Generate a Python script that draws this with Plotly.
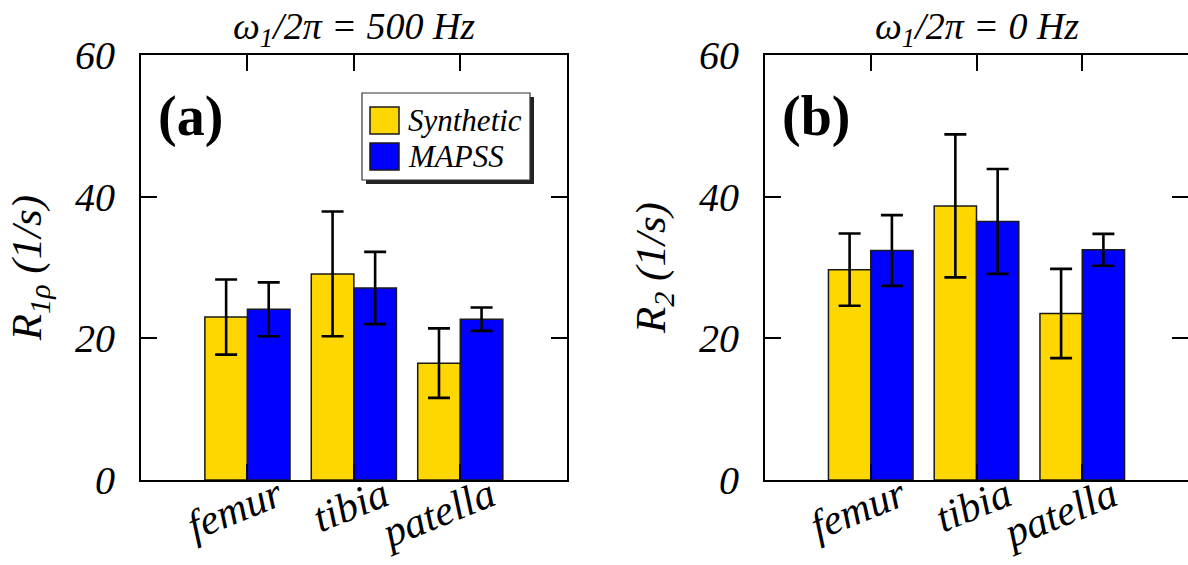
import plotly.graph_objects as go
from plotly.subplots import make_subplots

# ---- data ----
tissues = ["femur", "tibia", "patella"]
tissue_pos = [1, 2, 3]
series_names = ["Synthetic", "MAPSS"]

r1rho_synthetic = [23.0, 29.1, 16.5]
r1rho_synthetic_err = [5.3, 8.8, 4.9]
r1rho_mapss = [24.1, 27.1, 22.7]
r1rho_mapss_err = [3.8, 5.1, 1.65]

r2_synthetic = [29.7, 38.7, 23.5]
r2_synthetic_err = [5.1, 10.1, 6.3]
r2_mapss = [32.4, 36.5, 32.5]
r2_mapss_err = [5.0, 7.4, 2.25]

y_ticks = [0, 20, 40, 60]
panel_titles = ["<i>ω<sub>1</sub>/2π = 500 Hz</i>", "<i>ω<sub>1</sub>/2π = 0 Hz</i>"]
panel_labels = ["<b>(a)</b>", "<b>(b)</b>"]
y_titles = ["<i>R<sub>1ρ</sub> (1/s)</i>", "<i>R<sub>2</sub> (1/s)</i>"]

# ---- style ----
W, H = 1188, 565
YELLOW = "#FFD700"
BLUE = "#0000FF"
FONT = "Liberation Serif, Times New Roman, serif"
colors = [YELLOW, BLUE]

fig = make_subplots(rows=1, cols=2, horizontal_spacing=0.05)
fig.update_layout(
    width=W, height=H,
    margin=dict(l=0, r=0, t=55, b=85, autoexpand=False),
    paper_bgcolor="white", plot_bgcolor="white",
    barmode="group", bargap=0.2, bargroupgap=0.0,
    showlegend=False,
    font=dict(family=FONT, color="black"),
)

panels = [
    (r1rho_synthetic, r1rho_synthetic_err, r1rho_mapss, r1rho_mapss_err),
    (r2_synthetic, r2_synthetic_err, r2_mapss, r2_mapss_err),
]
for i, (s, se, m, me) in enumerate(panels):
    col = i + 1
    for name, vals, errs, c in zip(series_names, [s, m], [se, me], colors):
        fig.add_trace(go.Bar(
            x=tissue_pos, y=vals, name=name,
            marker=dict(color=c, line=dict(color="#1a1a1a", width=1.5)),
            error_y=dict(type="data", array=errs, visible=True,
                         color="black", thickness=2.6, width=11),
            showlegend=(i == 0),
        ), row=1, col=col)

dom_a = [141 / W, 566.7 / W]
dom_b = [765 / W, 1.0]
for i, dom in enumerate([dom_a, dom_b]):
    col = i + 1
    fig.update_xaxes(
        row=1, col=col, domain=dom, range=[0, 4], automargin=False,
        tickvals=tissue_pos, ticktext=["<i>" + t + "</i>" for t in tissues],
        tickangle=-22,
        ticks="inside", ticklen=16, tickwidth=2, tickcolor="black",
        showline=True, linecolor="black", linewidth=2, mirror="ticks",
        showgrid=False, zeroline=False,
        tickfont=dict(family=FONT, size=42, color="black"),
        ticklabelshift=30, ticklabelstandoff=-27,
    )
    fig.update_yaxes(
        row=1, col=col, range=[0, 60], tickvals=y_ticks, automargin=False,
        ticktext=["<i>%d</i>" % v for v in y_ticks],
        ticks="inside", ticklen=16, tickwidth=2, tickcolor="black",
        showline=True, linecolor="black", linewidth=2, mirror="ticks",
        showgrid=False, zeroline=False,
        tickfont=dict(family=FONT, size=40, color="black"),
        ticklabelstandoff=16,
        title=dict(text=y_titles[i], font=dict(family=FONT, size=43, color="black"),
                   standoff=20),
    )

# subplot titles and panel labels
for i, xr in enumerate(["x domain", "x2 domain"]):
    yr = "y domain" if i == 0 else "y2 domain"
    fig.add_annotation(x=0.5, y=1, xref=xr, yref=yr, text=panel_titles[i],
                       showarrow=False, yanchor="bottom", yshift=0,
                       font=dict(family=FONT, size=38, color="black"))
    fig.add_annotation(x=0.036, y=0.856, xref=xr, yref=yr, text=panel_labels[i],
                       showarrow=False, xanchor="left", yanchor="middle",
                       font=dict(family=FONT, size=56, color="black"))

# manual legend in panel (a)
def fx(px):
    return (px - 141) / (566.7 - 141)

def fy(py):
    return (480 - py) / 425

shapes = []
shapes.append(dict(type="rect", xref="x domain", yref="y domain",
                   x0=fx(366), x1=fx(534), y0=fy(184), y1=fy(97),
                   fillcolor="#222222", line=dict(width=0), layer="above"))
shapes.append(dict(type="rect", xref="x domain", yref="y domain",
                   x0=fx(362), x1=fx(530), y0=fy(180), y1=fy(93),
                   fillcolor="white", line=dict(color="#333333", width=1.2), layer="above"))
sw_centers = [120.5, 156.5]
for c, yc, name in zip(colors, sw_centers, series_names):
    shapes.append(dict(type="rect", xref="x domain", yref="y domain",
                       x0=fx(370), x1=fx(399), y0=fy(yc + 13.5), y1=fy(yc - 13.5),
                       fillcolor=c, line=dict(color="#1a1a1a", width=1.5), layer="above"))
    fig.add_annotation(x=fx(406), y=fy(yc), xref="x domain", yref="y domain",
                       text="<i>" + name + "</i>", showarrow=False,
                       xanchor="left", yanchor="middle",
                       font=dict(family=FONT, size=31, color="black"))
fig.update_layout(shapes=shapes)

fig.write_html("out.html")
